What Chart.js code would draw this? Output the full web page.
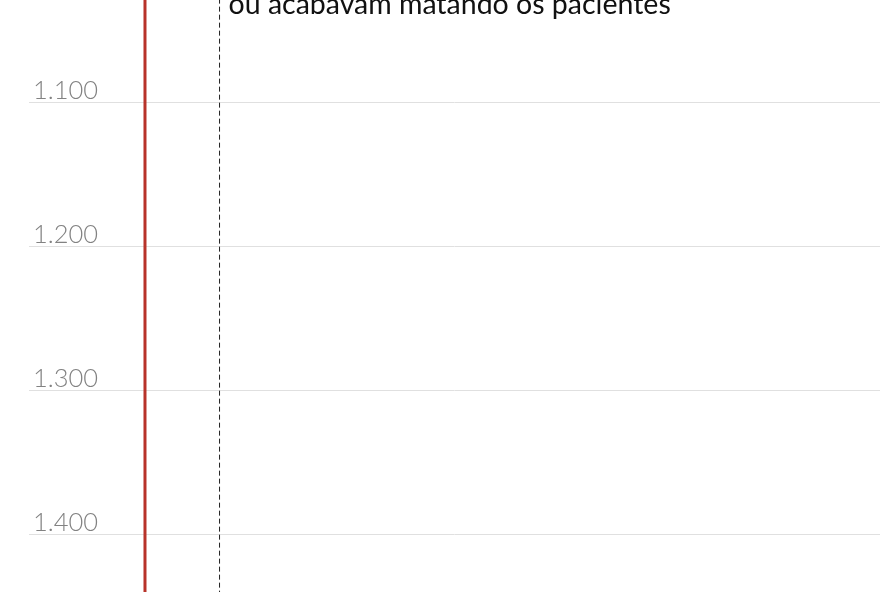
<!DOCTYPE html>
<html>
<head>
<meta charset="utf-8">
<script src="https://cdn.jsdelivr.net/npm/chart.js@4.4.1/dist/chart.umd.min.js"></script>
<style>
html,body{margin:0;padding:0;background:#fff;}
#wrap{width:880px;height:592px;position:relative;}
</style>
</head>
<body>
<div id="wrap"><canvas id="c"></canvas></div>
<script>
// Data
const yearTicks = [1100, 1200, 1300, 1400];
const tickLabels = ['1.100', '1.200', '1.300', '1.400'];
const visibleYears = [1028.7, 1439.6];
const timelineYears = [1000, 1500];       // red timeline runs through the view
const annotationYears = [1000, 1500];     // dashed marker line
const annotationText = ['ou acabavam matando os pacientes'];
const annotationTextYear = [1038.6];
const lanePositions = { timeline: 13.63, annotation: 22.39 };

const labelsPlugin = {
  id: 'labelsAndText',
  afterDatasetsDraw(chart) {
    const { ctx, scales } = chart;
    ctx.save();
    // year tick labels, above their gridlines
    ctx.fillStyle = '#828282';
    ctx.font = '300 25.5px Lato, "Open Sans", sans-serif';
    ctx.textAlign = 'left';
    ctx.textBaseline = 'alphabetic';
    yearTicks.forEach((v, i) => {
      const y = scales.y.getPixelForValue(v);
      ctx.fillText(tickLabels[i], 33, y - 4);
    });
    // annotation text
    ctx.fillStyle = '#111';
    ctx.font = '400 28.5px Lato, "Open Sans", sans-serif';
    annotationText.forEach((t, i) => {
      const x = scales.x.getPixelForValue(lanePositions.annotation) + 9;
      const y = scales.y.getPixelForValue(annotationTextYear[i]);
      ctx.fillText(t, x, y);
    });
    ctx.restore();
  }
};

new Chart(document.getElementById('c'), {
  type: 'line',
  data: {
    datasets: [
      {
        label: 'timeline',
        data: timelineYears.map(y => ({ x: lanePositions.timeline, y })),
        borderColor: '#b8332a',
        borderWidth: 3,
        pointRadius: 0
      },
      {
        label: 'annotation',
        data: annotationYears.map(y => ({ x: lanePositions.annotation, y })),
        borderColor: '#222',
        borderWidth: 1,
        borderDash: [5, 3],
        pointRadius: 0
      }
    ]
  },
  options: {
    responsive: true,
    maintainAspectRatio: false,
    animation: false,
    layout: { padding: { left: 29, right: 0, top: 0, bottom: 0 } },
    plugins: { legend: { display: false }, tooltip: { enabled: false } },
    scales: {
      x: {
        type: 'linear', min: 0, max: 100, display: false
      },
      y: {
        type: 'linear',
        reverse: true,
        min: visibleYears[0],
        max: visibleYears[1],
        afterBuildTicks(scale) { scale.ticks = yearTicks.map(v => ({ value: v })); },
        border: { display: false },
        grid: { color: '#e0e0e0', lineWidth: 1, drawTicks: false },
        ticks: { display: false }
      }
    }
  },
  plugins: [labelsPlugin]
});
</script>
</body>
</html>
